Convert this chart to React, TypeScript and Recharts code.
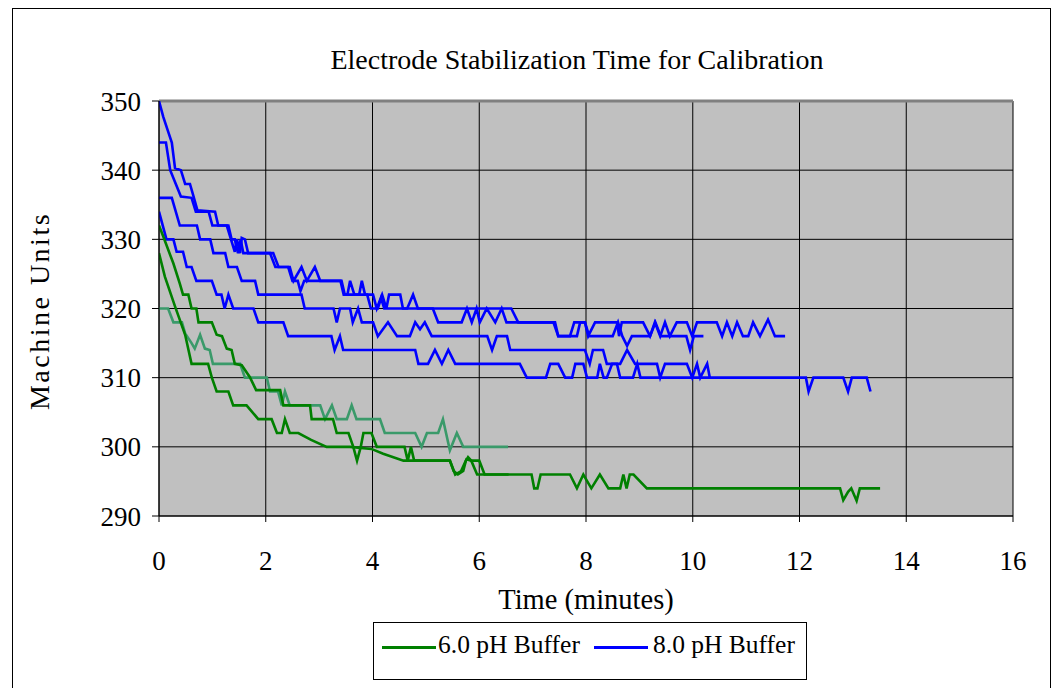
import React from 'react';
import { LineChart, Line, XAxis, YAxis, CartesianGrid, ReferenceLine } from 'recharts';

const FONT = '"Liberation Serif", "Times New Roman", serif';

const chartTitle = 'Electrode Stabilization Time for Calibration';
const xAxisTitle = 'Time (minutes)';
const yAxisTitle = 'Machine Units';
const xTicks = [0, 2, 4, 6, 8, 10, 12, 14, 16];
const yTicks = [290, 300, 310, 320, 330, 340, 350];
const legendNames = ['6.0 pH Buffer', '8.0 pH Buffer'];

type P = [number, number];

// 6.0 pH buffer runs: [minutes, machine units]
const ph6RunA: P[] = [
  [0, 328], [0.11, 324.6], [0.3, 320.3], [0.49, 316.2], [0.61, 312], [0.92, 312], [0.99, 310], [1.08, 308],
  [1.3, 308], [1.39, 306], [1.64, 306], [1.86, 304], [2.11, 304], [2.21, 302], [2.3, 302], [2.36, 304],
  [2.45, 302], [2.61, 302], [2.85, 301], [3.14, 300], [3.58, 300], [3.98, 299.7], [4.2, 299], [4.58, 298],
  [5.45, 298], [5.52, 296.5], [5.6, 296], [5.7, 296.5], [5.75, 298], [5.79, 298.5], [5.85, 298], [6.0, 298],
  [6.1, 296], [6.98, 296], [7.03, 294], [7.09, 294], [7.15, 296], [7.7, 296], [7.83, 294], [7.95, 296],
  [8.1, 294], [8.26, 296], [8.42, 294], [8.64, 294], [8.7, 296], [8.76, 294], [8.82, 296], [8.89, 296],
  [9.14, 294], [12.76, 294], [12.82, 292.3], [12.91, 293.5], [12.97, 294], [13.07, 292.2], [13.13, 294], [13.51, 294],
];
const ph6RunB: P[] = [
  [0, 332], [0.08, 330.4], [0.27, 326.5], [0.39, 323.6], [0.45, 322], [0.55, 322], [0.61, 320], [0.7, 320],
  [0.74, 318], [0.99, 318], [1.08, 316.2], [1.18, 316], [1.27, 314.2], [1.36, 314], [1.42, 312], [1.55, 311.8],
  [1.7, 310.1], [1.82, 308.2], [2.27, 308.2], [2.33, 306], [2.83, 306], [2.86, 304], [3.26, 304], [3.33, 302],
  [3.55, 302], [3.64, 300], [3.71, 298], [3.78, 300], [3.83, 302], [3.98, 302], [4.08, 300], [4.6, 300],
  [4.66, 298], [4.72, 300], [4.78, 298], [5.45, 298], [5.55, 296], [5.66, 296.5], [5.76, 298.2], [5.85, 298],
  [5.96, 296], [6.55, 296],
];
const ph6RunC: P[] = [
  [0, 320], [0.17, 320], [0.27, 318], [0.43, 318], [0.49, 316.4], [0.61, 315], [0.67, 314.2], [0.77, 316.2],
  [0.86, 314.2], [0.95, 314], [1.01, 312], [1.52, 312], [1.61, 310], [2.02, 310], [2.08, 308], [2.23, 308],
  [2.3, 306], [2.36, 308], [2.45, 306], [3.02, 306], [3.11, 304], [3.24, 306], [3.33, 304], [3.52, 304],
  [3.61, 306], [3.7, 304], [4.14, 304], [4.23, 302], [4.8, 302], [4.92, 300], [5.02, 302], [5.23, 302],
  [5.32, 304], [5.45, 299.5], [5.58, 302], [5.7, 300], [6.54, 300],
];

// 8.0 pH buffer runs
const ph8RunA: P[] = [
  [0, 350], [0.08, 347.7], [0.17, 345.6], [0.24, 344], [0.3, 340.3], [0.41, 340], [0.49, 338], [0.58, 338],
  [0.64, 336.4], [0.72, 334.2], [1.05, 334], [1.11, 332], [1.27, 332], [1.36, 329.7], [1.42, 328.2], [1.46, 330],
  [1.52, 328], [1.55, 330.2], [1.61, 330], [1.67, 328], [2.14, 328], [2.24, 326], [2.45, 326], [2.52, 324],
  [2.67, 326], [2.77, 324], [2.92, 326], [3.02, 324], [3.42, 324], [3.48, 322], [3.53, 322], [3.58, 324],
  [3.66, 322], [3.75, 322], [3.8, 324], [3.86, 322], [4.01, 322], [4.08, 320], [4.18, 322], [4.26, 320],
  [4.31, 322], [4.52, 322], [4.57, 320], [4.65, 320], [4.76, 322], [4.85, 320], [6.6, 320], [6.73, 318],
  [7.42, 318], [7.48, 316], [7.83, 316], [7.89, 318], [7.98, 318], [8.04, 316], [8.17, 318], [8.58, 318],
  [8.62, 316], [8.67, 318], [9.07, 318], [9.2, 316], [9.29, 318], [9.39, 316], [9.48, 318], [9.57, 316],
  [9.7, 318], [9.89, 318], [9.99, 316], [10.08, 318], [10.45, 318], [10.55, 316], [10.64, 318], [10.74, 316],
  [10.83, 318], [10.94, 316], [11.04, 316], [11.13, 318], [11.26, 316], [11.41, 318.4], [11.54, 316], [11.73, 316],
];
const ph8RunB: P[] = [
  [0, 344], [0.13, 344], [0.21, 340], [0.41, 336.2], [0.61, 336], [0.69, 334], [0.93, 334], [1.0, 332],
  [1.3, 332], [1.36, 330], [1.42, 330], [1.48, 328], [1.53, 330], [1.58, 328], [2.08, 328], [2.18, 326],
  [2.42, 326], [2.5, 324], [2.6, 324], [2.65, 322.5], [2.72, 324], [3.4, 324], [3.46, 322], [3.9, 322],
  [3.97, 320], [4.1, 320], [4.16, 321.5], [4.22, 320], [5.13, 320], [5.23, 318], [5.67, 318], [5.77, 320],
  [5.86, 318], [5.95, 320], [6.01, 318], [6.14, 320], [6.3, 318], [6.42, 320], [6.51, 318], [7.39, 318],
  [7.48, 316], [7.7, 316], [7.78, 318], [7.98, 318], [8.06, 316], [8.5, 316], [8.6, 318], [8.68, 316],
  [8.77, 314.6], [8.86, 316], [9.2, 316], [9.3, 318], [9.4, 316], [9.88, 316], [9.95, 314], [10.02, 316],
  [10.2, 316],
];
const ph8RunC: P[] = [
  [0, 336], [0.24, 336], [0.39, 332], [0.71, 332], [0.77, 330], [0.96, 330], [1.02, 328], [1.24, 328],
  [1.3, 326], [1.46, 326], [1.55, 324], [1.8, 324], [1.86, 322], [2.67, 322], [2.73, 320], [3.27, 320],
  [3.33, 318], [3.39, 320], [3.58, 320], [3.63, 318], [3.73, 320], [3.8, 318], [4.01, 318], [4.1, 316],
  [4.29, 318], [4.46, 316], [4.7, 316], [4.8, 318], [4.89, 317], [4.98, 318], [5.11, 316], [6.15, 316],
  [6.24, 314], [6.33, 316], [6.52, 316], [6.58, 314], [7.98, 314], [8.07, 312], [8.13, 314], [8.32, 314],
  [8.39, 312], [8.64, 312], [8.77, 314], [8.92, 312], [9.33, 312], [9.39, 310], [9.48, 312], [9.89, 312],
  [9.99, 310], [10.08, 312], [10.14, 310], [10.27, 312], [10.32, 310],
];
const ph8RunD: P[] = [
  [0, 334], [0.14, 330], [0.27, 330], [0.33, 328.2], [0.45, 328.2], [0.52, 326], [0.61, 326], [0.7, 324],
  [0.99, 324], [1.08, 322], [1.17, 322], [1.23, 320], [1.3, 322], [1.39, 320], [1.77, 320], [1.86, 318],
  [2.33, 318], [2.42, 316], [3.23, 316], [3.29, 314], [3.39, 316], [3.45, 314], [4.8, 314], [4.86, 312],
  [5.04, 312], [5.17, 314], [5.3, 312], [5.42, 314], [5.55, 312], [6.76, 312], [6.89, 310], [7.25, 310],
  [7.33, 312], [7.48, 312], [7.61, 310], [7.74, 310], [7.8, 312], [7.95, 312], [8.02, 310], [8.21, 310],
  [8.26, 312], [8.33, 310], [8.39, 310], [8.49, 312], [8.58, 312], [8.64, 310], [8.88, 310], [8.96, 312],
  [9.02, 310], [12.12, 310], [12.17, 308], [12.26, 310], [12.82, 310], [12.91, 308], [12.98, 310], [13.26, 310],
  [13.33, 308],
];

const GREEN = '#008000';
const TEAL = '#3A9A6A';
const BLUE = '#0000FF';

const toRows = (pts: P[]) => pts.map(([t, v]) => ({ t, v }));

const series = [
  { id: 'b1', pts: ph8RunA, color: BLUE },
  { id: 'b2', pts: ph8RunB, color: BLUE },
  { id: 'b3', pts: ph8RunC, color: BLUE },
  { id: 'b4', pts: ph8RunD, color: BLUE },
  { id: 'g3', pts: ph6RunC, color: TEAL },
  { id: 'g2', pts: ph6RunB, color: GREEN },
  { id: 'g1', pts: ph6RunA, color: GREEN },
];

export default function App() {
  const tickStyle = { fontSize: 27, fill: '#000', fontFamily: FONT };
  return (
    <div style={{ position: 'absolute', left: 0, top: 0, width: 1064, height: 688, background: '#fff', overflow: 'hidden', fontFamily: FONT }}>
      <div style={{ position: 'absolute', left: 12, top: 8, width: 1039, height: 720, border: '1px solid #000', boxSizing: 'border-box' }} />
      <LineChart width={1064} height={688} margin={{ top: 101, right: 51, bottom: 142, left: 99 }}>
        <CartesianGrid fill="#C0C0C0" fillOpacity={1} stroke="#000" strokeWidth={1} />
        <XAxis
          type="number"
          dataKey="t"
          domain={[0, 16]}
          ticks={xTicks}
          allowDataOverflow
          height={30}
          tickSize={6}
          tickMargin={29}
          stroke="#000"
          tick={tickStyle}
        />
        <YAxis
          type="number"
          dataKey="v"
          domain={[290, 350]}
          ticks={yTicks}
          allowDataOverflow
          width={60}
          tickSize={7}
          tickMargin={11}
          stroke="#000"
          tick={tickStyle}
        />
        <ReferenceLine y={350} stroke="#808080" strokeWidth={3} />
        {series.map((s) => (
          <Line
            key={s.id}
            data={toRows(s.pts)}
            dataKey="v"
            type="linear"
            stroke={s.color}
            strokeWidth={2.6}
            dot={false}
            activeDot={false}
            isAnimationActive={false}
          />
        ))}
      </LineChart>
      <div style={{ position: 'absolute', left: 0, width: 1154, top: 42, textAlign: 'center', fontSize: 28, lineHeight: '36px', color: '#000' }}>
        {chartTitle}
      </div>
      <div style={{ position: 'absolute', left: 159, width: 854, top: 582, textAlign: 'center', fontSize: 28.5, lineHeight: '36px', color: '#000' }}>
        {xAxisTitle}
      </div>
      <div
        style={{
          position: 'absolute', left: 40, top: 311, width: 300, marginLeft: -150, marginTop: -18,
          textAlign: 'center', fontSize: 28, lineHeight: '36px', letterSpacing: 2.5, transform: 'rotate(-90deg)', color: '#000',
        }}
      >
        {yAxisTitle}
      </div>
      <div style={{ position: 'absolute', left: 373, top: 622, width: 434, height: 58, border: '1px solid #000', boxSizing: 'border-box', background: '#fff' }}>
        <div style={{ position: 'absolute', left: 8, top: 23, width: 54, height: 0, borderTop: `3px solid ${GREEN}` }} />
        <div style={{ position: 'absolute', left: 64, top: 7, fontSize: 25.5, lineHeight: '30px', whiteSpace: 'nowrap' }}>{legendNames[0]}</div>
        <div style={{ position: 'absolute', left: 220, top: 23, width: 54, height: 0, borderTop: `3px solid ${BLUE}` }} />
        <div style={{ position: 'absolute', left: 279, top: 7, fontSize: 25.5, lineHeight: '30px', whiteSpace: 'nowrap' }}>{legendNames[1]}</div>
      </div>
    </div>
  );
}
